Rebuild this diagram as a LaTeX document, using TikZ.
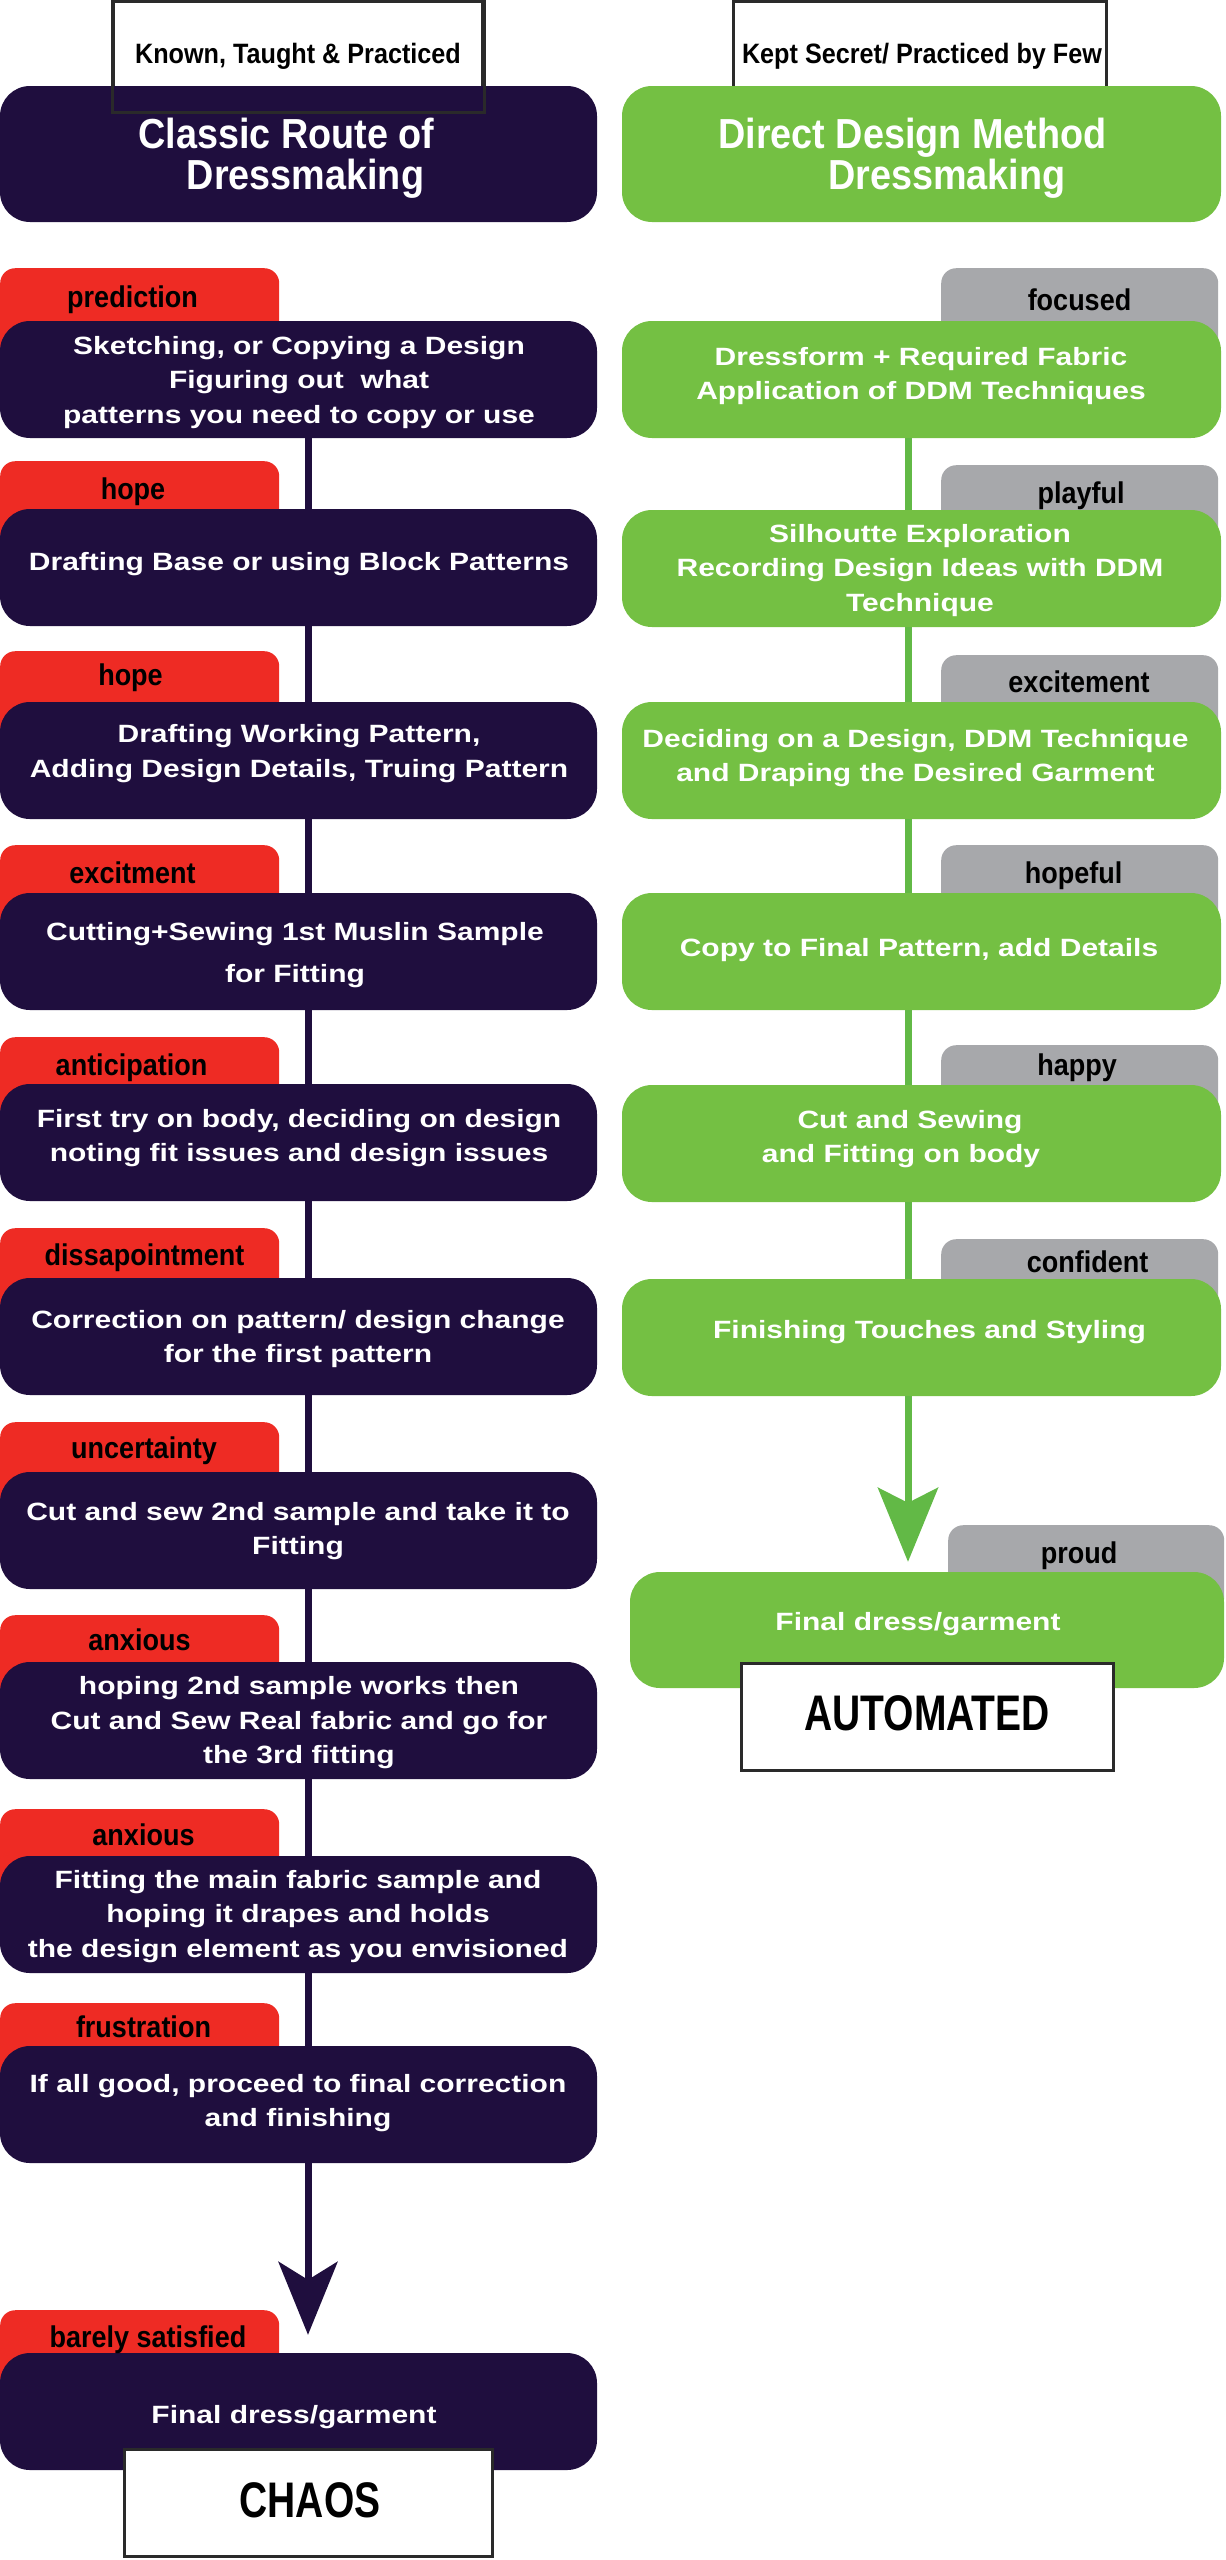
\documentclass[tikz,border=0pt]{standalone}
\usepackage{fontspec}
\usetikzlibrary{arrows.meta}
\newfontfamily\sansfam{Liberation Sans}[FakeStretch=1.2]
\newfontfamily\condfam{Liberation Sans}[FakeStretch=0.9]
\newfontfamily\xcondfam{Liberation Sans}[FakeStretch=0.78]
\definecolor{navy}{HTML}{1F0E3E}
\definecolor{ddmgreen}{HTML}{74C043}
\definecolor{linegreen}{HTML}{62B946}
\definecolor{tabred}{HTML}{EE2B24}
\definecolor{tabgray}{HTML}{A7A8AB}
\definecolor{tagborder}{HTML}{2A2A2A}
\newcommand\st{\rule[-6pt]{0pt}{25pt}}
\newcommand\hst{\rule[-9pt]{0pt}{40pt}}
\begin{document}
\begin{tikzpicture}[x=1pt,y=-1pt,
  navybox/.style={rectangle, rounded corners=30pt, fill=navy, minimum width=597pt, minimum height=117pt, inner sep=0pt},
  greenbox/.style={rectangle, rounded corners=30pt, fill=ddmgreen, minimum width=599pt, minimum height=117pt, inner sep=0pt},
  redtab/.style={rectangle, rounded corners=15pt, fill=tabred, anchor=north west, minimum width=279pt, inner sep=0pt},
  graytab/.style={rectangle, rounded corners=15pt, fill=tabgray, anchor=north west, minimum width=277pt, inner sep=0pt},
  tablabel/.style={font=\condfam\bfseries\fontsize{30}{30}\selectfont, text=black, anchor=base, inner sep=0pt},
  steptext/.style={font=\sansfam\bfseries\fontsize{25}{34.5}\selectfont, text=white, align=center, inner sep=0pt},
  headtext/.style={font=\condfam\bfseries\fontsize{42}{41}\selectfont, text=white, align=center, inner sep=0pt},
  tagtext/.style={font=\condfam\bfseries\fontsize{28}{28}\selectfont, text=black, anchor=base, inner sep=0pt},
  tagframe/.style={rectangle, draw=tagborder, line width=3pt, fill=white, inner sep=0pt},
  bigtext/.style={font=\xcondfam\bfseries\fontsize{50}{50}\selectfont, text=black, anchor=base, inner sep=0pt},
  navyline/.style={draw=navy, line width=7pt},
  greenline/.style={draw=linegreen, line width=7pt}
]
\useasboundingbox (0,0) rectangle (1226,2560);

% ---------- top tags and headers ----------
\node[tagframe, minimum width=369pt, minimum height=109pt] (TL) at (298,56) {};
\node[tagframe, minimum width=373pt, minimum height=109pt] (TR) at (920,56) {};
\node[navybox, minimum height=136pt] (HL) at (298.5,154) {};
\node[greenbox, minimum height=136pt] (HR) at (921.5,154) {};
\draw[tagborder, line width=3pt] (TL.north west) rectangle (TL.south east);
\node[tagtext] (TLt) at (298,63) {Known, Taught \& Practiced};
\node[tagtext] (TRt) at (922,63) {Kept Secret/ Practiced by Few};
\node[headtext] (HLt) at (286.5,157.5) {\hst Classic Route of\\\hspace*{38pt}Dressmaking\hst};
\node[headtext] (HRt) at (912.5,157.5) {\hst Direct Design Method\\\hspace*{69pt}Dressmaking\hst};

% ---------- left tabs ----------
\node[redtab, minimum height=93pt] (LT1) at (0,268) {};
\node[redtab, minimum height=88pt] (LT2) at (0,461) {};
\node[redtab, minimum height=91pt] (LT3) at (0,651) {};
\node[redtab, minimum height=88pt] (LT4) at (0,845) {};
\node[redtab, minimum height=87pt] (LT5) at (0,1037) {};
\node[redtab, minimum height=90pt] (LT6) at (0,1228) {};
\node[redtab, minimum height=90pt] (LT7) at (0,1422) {};
\node[redtab, minimum height=87pt] (LT8) at (0,1615) {};
\node[redtab, minimum height=87pt] (LT9) at (0,1809) {};
\node[redtab, minimum height=83pt] (LT10) at (0,2003) {};
\node[redtab, minimum height=83pt] (LT11) at (0,2310) {};

% ---------- right tabs ----------
\node[graytab, minimum height=93pt] (RT1) at (941,268) {};
\node[graytab, minimum height=85pt] (RT2) at (941,465) {};
\node[graytab, minimum height=87pt] (RT3) at (941,655) {};
\node[graytab, minimum height=88pt] (RT4) at (941,845) {};
\node[graytab, minimum height=80pt] (RT5) at (941,1045) {};
\node[graytab, minimum height=80pt] (RT6) at (941,1239) {};
\node[graytab, minimum height=87pt, minimum width=276pt] (RT7) at (948,1525) {};

% ---------- left boxes ----------
\node[navybox] (L1) at (298.5,379.5) {};
\node[navybox] (L2) at (298.5,567.5) {};
\node[navybox] (L3) at (298.5,760.5) {};
\node[navybox] (L4) at (298.5,951.5) {};
\node[navybox] (L5) at (298.5,1142.5) {};
\node[navybox] (L6) at (298.5,1336.5) {};
\node[navybox] (L7) at (298.5,1530.5) {};
\node[navybox] (L8) at (298.5,1720.5) {};
\node[navybox] (L9) at (298.5,1914.5) {};
\node[navybox] (L10) at (298.5,2104.5) {};
\node[navybox] (L11) at (298.5,2411.5) {};

% ---------- right boxes ----------
\node[greenbox] (R1) at (921.5,379.5) {};
\node[greenbox] (R2) at (921.5,568.5) {};
\node[greenbox] (R3) at (921.5,760.5) {};
\node[greenbox] (R4) at (921.5,951.5) {};
\node[greenbox] (R5) at (921.5,1143.5) {};
\node[greenbox] (R6) at (921.5,1337.5) {};
\node[greenbox, minimum width=594pt, minimum height=116pt] (R7) at (927,1630) {};

% ---------- end tags ----------
\node[tagframe, minimum width=368pt, minimum height=107pt] (CH) at (308.5,2503) {};
\node[tagframe, minimum width=372pt, minimum height=107pt] (AU) at (927.5,1717) {};
\node[bigtext] (CHt) at (310,2517) {CHAOS};
\node[bigtext] (AUt) at (927,1730) {AUTOMATED};

% ---------- connectors ----------
\coordinate (lx) at (308,0);
\coordinate (rx) at (908,0);
\foreach \a/\b in {L1/L2,L2/L3,L3/L4,L4/L5,L5/L6,L6/L7,L7/L8,L8/L9,L9/L10}
  \draw[navyline] (\a.south -| lx) -- (\b.north -| lx);
\draw[navyline, -{Stealth[length=73pt,width=59pt,inset=18pt]}, shorten >=18pt] (L10.south -| lx) -- (L11.north -| lx);
\foreach \a/\b in {R1/R2,R2/R3,R3/R4,R4/R5,R5/R6}
  \draw[greenline] (\a.south -| rx) -- (\b.north -| rx);
\draw[greenline, -{Stealth[length=74pt,width=60pt,inset=15pt]}, shorten >=10pt] (R6.south -| rx) -- (R7.north -| rx);

% ---------- tab labels ----------
\node[tablabel] at (132.5,307) {prediction};
\node[tablabel] at (133,499) {hope};
\node[tablabel] at (130.5,685) {hope};
\node[tablabel] at (132.5,883) {excitment};
\node[tablabel] at (131.5,1075) {anticipation};
\node[tablabel] at (144.5,1265) {dissapointment};
\node[tablabel] at (144,1458) {uncertainty};
\node[tablabel] at (139.5,1650) {anxious};
\node[tablabel] at (143.5,1845) {anxious};
\node[tablabel] at (143.5,2037) {frustration};
\node[tablabel] at (148,2347) {barely satisfied};
\node[tablabel] at (1079.5,310) {focused};
\node[tablabel] at (1081,503) {playful};
\node[tablabel] at (1079,692) {excitement};
\node[tablabel] at (1073.5,883) {hopeful};
\node[tablabel] at (1077,1075) {happy};
\node[tablabel] at (1087.5,1272) {confident};
\node[tablabel] at (1079,1563) {proud};

% ---------- step texts ----------
\node[steptext] (L1t) at (299,382) {\st Sketching, or Copying a Design\\Figuring out\ \ what\\patterns you need to copy or use\st};
\node[steptext] (L2t) at (299,563.5) {\st Drafting Base or using Block Patterns\st};
\node[steptext] (L3t) at (299,753.5) {\st Drafting Working Pattern,\\Adding Design Details, Truing Pattern\st};
\node[steptext, font=\sansfam\bfseries\fontsize{25}{42}\selectfont] (L4t) at (295,954.5) {\st Cutting+Sewing 1st Muslin Sample\\for Fitting\st};
\node[steptext] (L5t) at (299,1138) {\st First try on body, deciding on design\\noting fit issues and design issues\st};
\node[steptext] (L6t) at (298,1339) {\st Correction on pattern/ design change\\for the first pattern\st};
\node[steptext] (L7t) at (298,1531) {\st Cut and sew 2nd sample and take it to\\Fitting\st};
\node[steptext] (L8t) at (299,1722.5) {\st hoping 2nd sample works then\\Cut and Sew Real fabric and go for\\the 3rd fitting\st};
\node[steptext] (L9t) at (298,1916) {\st Fitting the main fabric sample and\\hoping it drapes and holds\\the design element as you envisioned\st};
\node[steptext] (L10t) at (298,2103) {\st If all good, proceed to final correction\\and finishing\st};
\node[steptext] (L11t) at (294,2416.5) {\st Final dress/garment\st};
\node[steptext] (R1t) at (921,376) {\st Dressform + Required Fabric\\Application of DDM Techniques\st};
\node[steptext] (R2t) at (920,570) {\st Silhoutte Exploration\\Recording Design Ideas with DDM\\Technique\st};
\node[steptext] (R3t) at (915.5,758) {\st Deciding on a Design, DDM Technique\\and Draping the Desired Garment\st};
\node[steptext] (R4t) at (919,949.5) {\st Copy to Final Pattern, add Details\st};
\node[steptext] (R5t) at (901,1139) {\st\hspace*{18pt}Cut and Sewing\\and Fitting on body\st};
\node[steptext] (R6t) at (929.5,1331.5) {\st Finishing Touches and Styling\st};
\node[steptext] (R7t) at (918,1623.5) {\st Final dress/garment\st};
\end{tikzpicture}
\end{document}
